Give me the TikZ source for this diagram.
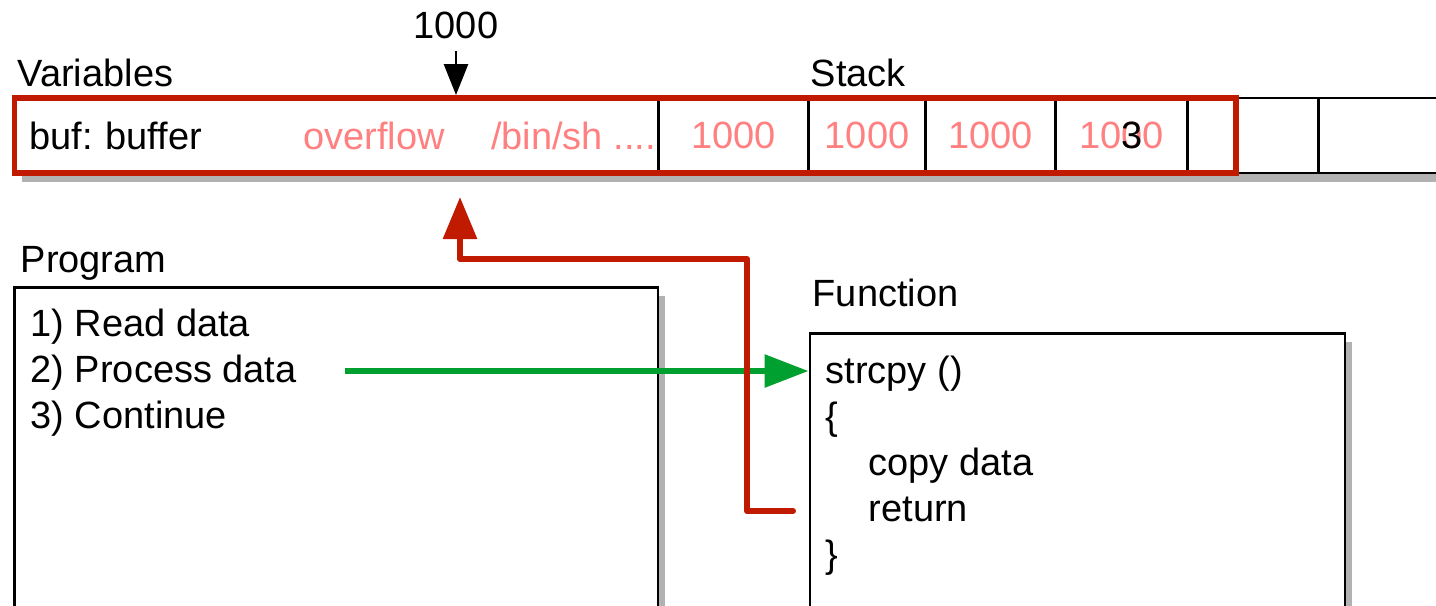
\documentclass[tikz,border=0pt]{standalone}
\usepackage{fontspec}
\setmainfont{Liberation Sans}
\usetikzlibrary{positioning,arrows.meta,shadows,fit}
\frenchspacing

\definecolor{ovrred}{RGB}{192,26,0}
\definecolor{pinktxt}{RGB}{255,128,128}
\definecolor{callgreen}{RGB}{0,160,48}

\tikzset{
  softshadow/.style={drop shadow={shadow xshift=0.07cm, shadow yshift=-0.09cm, fill=black, opacity=0.3}},
  cell/.style={draw, line width=0.75pt, fill=white, minimum height=0.75cm, inner sep=0pt, outer sep=0pt, anchor=west, softshadow},
  heading/.style={inner sep=0pt, anchor=base west},
  codeline/.style={inner sep=0pt, anchor=base west},
  bigbox/.style={draw, line width=0.75pt, fill=white, anchor=north west, softshadow},
}

\begin{document}
\begin{tikzpicture}[font=\fontsize{10.8}{13}\selectfont]
  \useasboundingbox (0,0) rectangle (14.36,-6.05);

  % stack row
  \node[cell, minimum width=6.44cm, text width=6.14cm, align=left, inner xsep=0.15cm] (buf) at (0.145,-1.355) {buf: buffer};
  \node[cell, minimum width=1.5cm, right=0pt of buf, text=pinktxt] (c1) {1000};
  \node[cell, minimum width=1.17cm, right=0pt of c1, text=pinktxt] (c2) {1000};
  \node[cell, minimum width=1.3cm, right=0pt of c2, text=pinktxt] (c3) {1000};
  \node[cell, minimum width=1.32cm, right=0pt of c3, text=pinktxt] (c4) {1000};
  \node[cell, minimum width=1.31cm, right=0pt of c4] (c5) {};
  \node[cell, minimum width=1.5cm, right=0pt of c5] (c6) {};

  \node[inner sep=0pt, text=pinktxt, anchor=base west] (ovf) at ([xshift=2.88cm]buf.base west) {overflow};
  \node[inner sep=0pt, text=pinktxt, anchor=base west] (shell) at ([xshift=4.76cm]buf.base west) {/bin/sh ....};
  \node[inner sep=0pt] (three) at ([xshift=0.105cm]c4.center) {3};

  % overwritten part
  \coordinate (ovrend) at ([xshift=0.48cm]c4.south east);
  \node[draw=ovrred, line width=1.7pt, inner sep=0pt, fit=(buf.north west) (ovrend)] (ovr) {};

  \node[heading] (varlbl) at (0.17,-0.86) {Variables};
  \node[heading] (stklbl) at (8.10,-0.86) {Stack};
  \node[inner sep=0pt, anchor=base] (addr) at (4.56,-0.38) {1000};
  \draw[-{Triangle[length=0.31cm, width=0.24cm]}, line width=0.75pt] ([yshift=-0.12cm]addr.south) -- (addr.south |- ovr.north);

  % program
  \node[heading] (proglbl) at (0.20,-2.72) {Program};
  \node[bigbox, minimum width=6.43cm, minimum height=4cm] (prog) at (0.135,-2.86) {};
  \node[codeline] (step1) at (0.30,-3.36) {1) Read data};
  \node[codeline] (step2) at (0.30,-3.82) {2) Process data};
  \node[codeline] (step3) at (0.30,-4.28) {3) Continue};

  % function
  \node[heading] (fnlbl) at (8.12,-3.06) {Function};
  \node[bigbox, minimum width=5.35cm, minimum height=3cm] (fn) at (8.085,-3.32) {};
  \node[codeline] (code1) at (8.25,-3.83) {strcpy ()};
  \node[codeline] (code2) at (8.25,-4.29) {\{};
  \node[codeline] (code3) at (8.68,-4.75) {copy data};
  \node[codeline] (code4) at (8.68,-5.21) {return};
  \node[codeline] (code5) at (8.25,-5.67) {\}};

  % call and return
  \coordinate (callpt) at (3.45,-3.71);
  \draw[callgreen, line width=1.7pt, -{Triangle[length=0.44cm, width=0.32cm]}] (callpt) -- (callpt -| fn.west);

  \coordinate (retpt) at (7.93,-5.11);
  \coordinate (bend) at (7.47,-2.59);
  \coordinate (hit) at (4.60,-1.97);
  \draw[ovrred, line width=1.7pt, line join=round, line cap=round, -{Triangle[length=0.42cm, width=0.33cm]}] (retpt) -| (bend) -| (hit);
\end{tikzpicture}
\end{document}
